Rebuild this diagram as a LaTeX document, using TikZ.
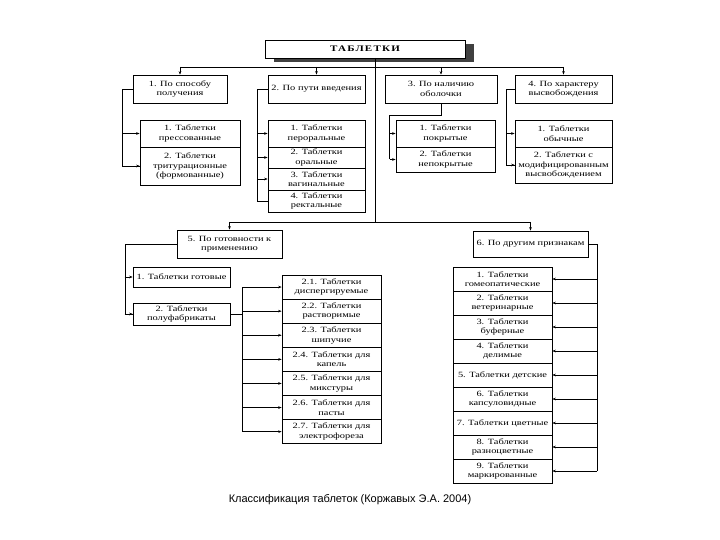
\documentclass[tikz,border=0pt]{standalone}
\usepackage{fontspec}
\setmainfont{Liberation Serif}
\newfontfamily\boxfont[FakeStretch=1.3]{Liberation Serif}
\newfontfamily\titlefont[FakeStretch=1.3,LetterSpace=14]{Liberation Serif}
\newfontfamily\capfont{Liberation Sans}
\usetikzlibrary{arrows.meta,shadows}
\tikzset{
  box/.style={draw,line width=.7pt,align=center,inner sep=1pt,fill=white,
    font=\boxfont\fontsize{8}{9.5}\selectfont},
  arr/.style={-{Stealth[length=3.5pt,width=2.6pt]},line width=.5pt},
  link/.style={line width=.5pt},
}
\begin{document}
\begin{tikzpicture}[x=1pt,y=-1pt]
	\useasboundingbox (0,0) rectangle (720,540);
	% title
	\node[draw,line width=.6pt,fill=white,minimum width=200pt,minimum height=18pt,
	  drop shadow={shadow xshift=9pt,shadow yshift=-4.5pt,opacity=1,fill=black!75},
	  font=\titlefont\fontsize{8.5}{10}\selectfont\bfseries] (root) at (365,49) {ТАБЛЕТКИ};
	% first row
	\node[box,minimum width=94pt,minimum height=28pt] (c1) at (180,89) {1. По способу\\получения};
	\node[box,minimum width=97pt,minimum height=28pt] (c2) at (316.5,89) {2. По пути введения};
	\node[box,minimum width=112pt,minimum height=28pt] (c3) at (441,89) {3. По наличию\\оболочки};
	\node[box,minimum width=97pt,minimum height=28pt] (c4) at (563.5,89) {4. По характеру\\высвобождения};
	\coordinate (bus) at (0,67);
	\draw[link] (c1.north |- bus) -- (c4.north |- bus);
	\draw[arr] (c1.north |- bus) -- (c1.north);
	\draw[arr] (c2.north |- bus) -- (c2.north);
	\draw[arr] (c3.north |- bus) -- (c3.north);
	\draw[arr] (c4.north |- bus) -- (c4.north);
	% 1
	\node[box,minimum width=100pt,minimum height=27pt] (c1a) at (190,133.5) {1. Таблетки\\прессованные};
	\node[box,minimum width=100pt,minimum height=38pt] (c1b) at (190,166) {2. Таблетки\\тритурационные\\(формованные)};
	\draw[link] (c1.west) -- ++(-10,0) |- (c1b.west);
	\draw[arr] (c1a.west) ++(-17,0) -- (c1a.west);
	\draw[arr] (c1b.west) ++(-17,0) -- (c1b.west);
	% 2
	\node[box,minimum width=97pt,minimum height=27pt] (c2a) at (316.5,133.5) {1. Таблетки\\пероральные};
	\node[box,minimum width=97pt,minimum height=21pt] (c2b) at (316.5,157.5) {2. Таблетки\\оральные};
	\node[box,minimum width=97pt,minimum height=22pt] (c2c) at (316.5,179) {3. Таблетки\\вагинальные};
	\node[box,minimum width=97pt,minimum height=22pt] (c2d) at (316.5,201) {4. Таблетки\\ректальные};
	\draw[link] (c2.west) -- ++(-10,0) |- (c2d.west);
	\draw[arr] (c2a.west) ++(-10,0) -- (c2a.west);
	\draw[arr] (c2b.west) ++(-10,0) -- (c2b.west);
	\draw[arr] (c2c.west) ++(-10,0) -- (c2c.west);
	% 3
	\node[box,minimum width=99pt,minimum height=27pt] (c3a) at (445.5,133.5) {1. Таблетки\\покрытые};
	\node[box,minimum width=99pt,minimum height=25pt] (c3b) at (445.5,159.5) {2. Таблетки\\непокрытые};
	\draw[link] (c3.south) -- ++(0,12) -| ([xshift=-6pt]c3b.west);
	\draw[arr] ([xshift=-6pt]c3a.west) -- (c3a.west);
	\draw[arr] ([xshift=-6pt]c3b.west) -- (c3b.west);
	% 4
	\node[box,minimum width=97pt,minimum height=27pt] (c4a) at (563.5,133.5) {1. Таблетки\\обычные};
	\node[box,minimum width=97pt,minimum height=36pt] (c4b) at (563.5,165) {2. Таблетки с\\модифицированным\\высвобождением};
	\draw[link] (c4.west) -- ++(-8,0) |- (c4b.west);
	\draw[arr] (c4a.west) ++(-8,0) -- (c4a.west);
	\draw[arr] (c4b.west) ++(-8,0) -- (c4b.west);
	% second row
	\coordinate (trbot) at (375,222);
	\draw[link] (375,58) -- (trbot);
	\node[box,minimum width=105pt,minimum height=28pt] (c5) at (229.5,244) {5. По готовности к\\применению};
	\node[box,minimum width=115pt,minimum height=26pt] (c6) at (530.5,244) {6. По другим признакам};
	\draw[link] (c5.north |- trbot) -- (c6.north |- trbot);
	\draw[arr] (c5.north |- trbot) -- (c5.north);
	\draw[arr] (c6.north |- trbot) -- (c6.north);
	% 5
	\node[box,minimum width=97pt,minimum height=20pt] (c5a) at (181.5,277) {1. Таблетки готовые};
	\node[box,minimum width=97pt,minimum height=22pt] (c5b) at (181.5,314) {2. Таблетки\\полуфабрикаты};
	\draw[link] (c5.west) -- (125,244) |- (c5b.west);
	\draw[arr] (c5a.west) ++(-8,0) -- (c5a.west);
	\draw[arr] (c5b.west) ++(-8,0) -- (c5b.west);
	\node[box,minimum width=99pt,minimum height=24.1pt] (p1) at (331.5,287.05) {2.1. Таблетки\\диспергируемые};
	\node[box,minimum width=99pt,minimum height=24.1pt] (p2) at (331.5,311.15) {2.2. Таблетки\\растворимые};
	\node[box,minimum width=99pt,minimum height=24.1pt] (p3) at (331.5,335.25) {2.3. Таблетки\\шипучие};
	\node[box,minimum width=99pt,minimum height=24.1pt] (p4) at (331.5,359.35) {2.4. Таблетки для\\капель};
	\node[box,minimum width=99pt,minimum height=24.1pt] (p5) at (331.5,383.45) {2.5. Таблетки для\\микстуры};
	\node[box,minimum width=99pt,minimum height=24.1pt] (p6) at (331.5,407.55) {2.6. Таблетки для\\пасты};
	\node[box,minimum width=99pt,minimum height=24.1pt] (p7) at (331.5,431.65) {2.7. Таблетки для\\электрофореза};
	\coordinate (pbus) at (242,0);
	\draw[link] (c5b.east) -- (c5b.east -| pbus);
	\draw[link] (p1.west -| pbus) -- (p7.west -| pbus);
	\draw[arr] (p1.west -| pbus) -- (p1.west);
	\draw[arr] (p2.west -| pbus) -- (p2.west);
	\draw[arr] (p3.west -| pbus) -- (p3.west);
	\draw[arr] (p4.west -| pbus) -- (p4.west);
	\draw[arr] (p5.west -| pbus) -- (p5.west);
	\draw[arr] (p6.west -| pbus) -- (p6.west);
	\draw[arr] (p7.west -| pbus) -- (p7.west);
	% 6
	\node[box,minimum width=99pt,minimum height=24pt] (d1) at (502.5,279) {1. Таблетки\\гомеопатические};
	\node[box,minimum width=99pt,minimum height=24pt] (d2) at (502.5,303) {2. Таблетки\\ветеринарные};
	\node[box,minimum width=99pt,minimum height=24pt] (d3) at (502.5,327) {3. Таблетки\\буферные};
	\node[box,minimum width=99pt,minimum height=24pt] (d4) at (502.5,351) {4. Таблетки\\делимые};
	\node[box,minimum width=99pt,minimum height=24pt] (d5) at (502.5,375) {5. Таблетки детские};
	\node[box,minimum width=99pt,minimum height=24pt] (d6) at (502.5,399) {6. Таблетки\\капсуловидные};
	\node[box,minimum width=99pt,minimum height=24pt] (d7) at (502.5,423) {7. Таблетки цветные};
	\node[box,minimum width=99pt,minimum height=24pt] (d8) at (502.5,447) {8. Таблетки\\разноцветные};
	\node[box,minimum width=99pt,minimum height=24pt] (d9) at (502.5,471) {9. Таблетки\\маркированные};
	\coordinate (dbus) at (597,0);
	\draw[link] (c6.east) -- (c6.east -| dbus) -- (d9.east -| dbus);
	\draw[arr] (d1.east -| dbus) -- (d1.east);
	\draw[arr] (d2.east -| dbus) -- (d2.east);
	\draw[arr] (d3.east -| dbus) -- (d3.east);
	\draw[arr] (d4.east -| dbus) -- (d4.east);
	\draw[arr] (d5.east -| dbus) -- (d5.east);
	\draw[arr] (d6.east -| dbus) -- (d6.east);
	\draw[arr] (d7.east -| dbus) -- (d7.east);
	\draw[arr] (d8.east -| dbus) -- (d8.east);
	\draw[arr] (d9.east -| dbus) -- (d9.east);
	% caption
	\node[font=\capfont\fontsize{11}{13}\selectfont] (cap) at (350,500) {Классификация таблеток (Коржавых Э.А. 2004)};
\end{tikzpicture}
\end{document}
